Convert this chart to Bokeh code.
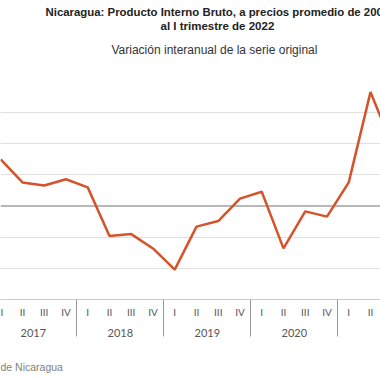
from bokeh.plotting import figure
from bokeh.models import Range1d, FixedTicker, LinearAxis, Title, Span, Grid, ColumnDataSource
from bokeh.embed import file_html
from bokeh.resources import INLINE

# ---- data ----
years = ["2017", "2018", "2019", "2020", "2021"]
quarter_names = ["I", "II", "III", "IV"]
variacion = [7.5, 3.8, 3.3, 4.3,
             3.0, -4.8, -4.5, -6.8,
             -10.2, -3.3, -2.4, 1.2,
             2.3, -6.8, -0.85, -1.7,
             3.8, 18.3, 9.7]
y_ticks = [-15, -10, -5, 5, 10, 15, 20]

title1 = "Nicaragua: Producto Interno Bruto, a precios promedio de 2006"
title2 = "al I trimestre de 2022"
subtitle = "Variación interanual de la serie original"
source_text = "Fuente: Banco Central de Nicaragua"

n = len(variacion)
idx = list(range(n))
src = ColumnDataSource(dict(x=idx, y=variacion))

p = figure(width=380, height=380, output_backend="svg", toolbar_location=None,
           x_range=Range1d(-0.01, 17.46), y_range=Range1d(-15, 20),
           x_axis_type=None, y_axis_type=None, title=None,
           min_border_left=0, min_border_right=0, min_border_top=81, min_border_bottom=81,
           outline_line_color=None, background_fill_color="white", border_fill_color="white")

p.add_layout(Grid(dimension=1, ticker=FixedTicker(ticks=y_ticks), grid_line_color="#e0e0e0", grid_line_width=1))
p.add_layout(Span(location=0, dimension="width", line_color="#a0a0a0", line_width=1.5, level="underlay"))

p.line("x", "y", source=src, line_color="#d4532b", line_width=2.5)

# quarter axis
q_ticks = [float(i) for i in idx]
q_over = {float(i): quarter_names[i % 4] for i in idx}
sep_ticks = [4 * k + 3.5 for k in range(len(years))]
ax1 = LinearAxis(ticker=FixedTicker(ticks=q_ticks, minor_ticks=sep_ticks),
                 major_label_overrides=q_over,
                 major_tick_out=0, major_tick_in=0, major_tick_line_color=None,
                 minor_tick_out=37, minor_tick_in=0, minor_tick_line_color="#999999",
                 axis_line_color="#cccccc", major_label_standoff=-31,
                 major_label_text_font="Lato", major_label_text_font_size="10px",
                 major_label_text_color="#555555")
p.add_layout(ax1, "below")

y_centers = [4 * k + 1.5 for k in range(len(years))]
ax2 = LinearAxis(ticker=FixedTicker(ticks=y_centers, minor_ticks=[]),
                 major_label_overrides={c: years[k] for k, c in enumerate(y_centers)},
                 major_tick_out=0, major_tick_in=0, major_tick_line_color=None,
                 minor_tick_line_color=None, axis_line_color=None, major_label_standoff=8,
                 major_label_text_font="Lato", major_label_text_font_size="11px",
                 major_label_text_color="#555555")
p.add_layout(ax2, "below")

p.add_layout(Title(text=source_text, align="left", offset=-108, text_font="Liberation Sans",
                   text_font_size="10.5px", text_font_style="normal", text_color="#808080",
                   standoff=0, padding=dict(left=0, right=0, top=19, bottom=0)), "below")

p.add_layout(Title(text=subtitle, align="left", offset=111, text_font="Liberation Sans",
                   text_font_size="12px", text_font_style="normal", text_color="#333333",
                   standoff=0, padding=dict(left=0, right=0, top=0, bottom=25)), "above")
p.add_layout(Title(text=title2, align="left", offset=160, text_font="Liberation Sans",
                   text_font_size="11.5px", text_font_style="bold", text_color="#222222",
                   standoff=0, padding=dict(left=0, right=0, top=0, bottom=9)), "above")
p.add_layout(Title(text=title1, align="left", offset=45, text_font="Liberation Sans",
                   text_font_size="11.4px", text_font_style="bold", text_color="#222222",
                   standoff=0), "above")

open("out.html", "w").write(file_html(p, INLINE))
